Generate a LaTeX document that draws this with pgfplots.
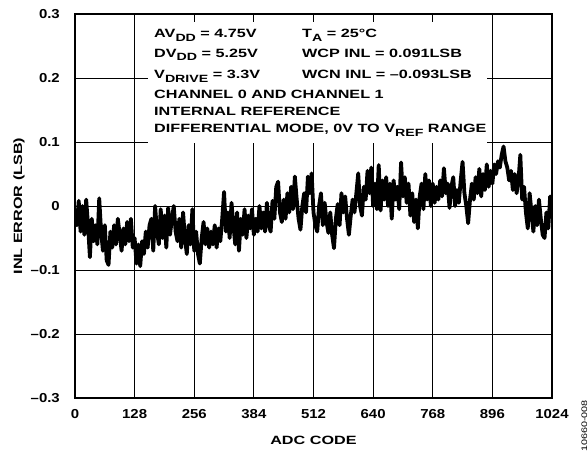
\documentclass[border=0pt]{standalone}
\usepackage{fontspec}
\setmainfont{Liberation Sans}
\newfontfamily\tickfont{Liberation Sans}[FakeStretch=1.15]
\newfontfamily\labfont{Liberation Sans}[FakeStretch=1.35]
\usepackage{pgfplots}
\pgfplotsset{compat=1.18}
\newcommand{\sub}[1]{\raisebox{-3.5bp}{\fontsize{10.5bp}{10.5bp}\selectfont #1}}
\newcommand{\labsize}{\labfont\bfseries\fontsize{12bp}{14bp}\selectfont}

\begin{document}
\begin{tikzpicture}
\useasboundingbox (-75bp,-55bp) rectangle (513bp,398bp);
\begin{axis}[
    scale only axis,
    width=477bp, height=384bp,
    at={(0,0)}, anchor=south west,
    xmin=0, xmax=1024,
    ymin=-0.3, ymax=0.3,
    xtick={0,128,256,384,512,640,768,896,1024},
    xticklabels={0,128,256,384,512,640,768,896,1024},
    ytick={-0.3,-0.2,-0.1,0,0.1,0.2,0.3},
    yticklabels={–0.3,–0.2,–0.1,0,0.1,0.2,0.3},
    grid=major,
    major grid style={black, line width=0.8bp},
    axis line style={line width=1.3bp},
    major tick length=0pt,
    tick label style={font=\tickfont\bfseries\fontsize{13bp}{15bp}\selectfont, inner sep=0pt},
    xticklabel shift=11.5bp,
    yticklabel shift=15bp,
]
\addplot[black, line width=3.8bp, line join=round] coordinates {
(0,-0.005) (4,-0.03) (8,0.008) (12,-0.04) (16,0.0) (20,-0.045) (24,0.01) (28,-0.03)
(32,-0.08) (36,-0.02) (40,-0.055) (44,-0.03) (48,-0.06) (52,0.012) (56,-0.04) (60,-0.07)
(64,-0.03) (68,-0.085) (72,-0.092) (76,-0.04) (80,-0.065) (84,-0.03) (88,-0.06) (92,-0.02)
(96,-0.045) (100,-0.07) (104,-0.035) (108,-0.06) (112,-0.025) (116,-0.055) (120,-0.02) (124,-0.065)
(128,-0.05) (132,-0.09) (136,-0.06) (140,-0.094) (144,-0.055) (148,-0.075) (152,-0.04) (156,-0.065)
(160,-0.03) (164,-0.02) (168,-0.07) (172,0.0) (176,-0.04) (180,-0.06) (184,-0.005) (188,-0.05)
(192,-0.015) (196,-0.065) (200,-0.003) (204,-0.045) (208,-0.02) (212,0.0) (216,-0.04) (220,-0.055)
(224,-0.02) (228,-0.065) (232,-0.01) (236,-0.05) (240,-0.075) (244,-0.03) (248,-0.06) (252,-0.005)
(256,-0.07) (260,-0.04) (264,-0.075) (268,-0.09) (272,-0.05) (276,-0.025) (280,-0.06) (284,-0.035)
(288,-0.065) (292,-0.04) (296,-0.06) (300,-0.03) (304,-0.065) (308,-0.035) (312,-0.055) (316,-0.02)
(320,0.022) (324,-0.04) (328,-0.01) (332,-0.05) (336,0.005) (340,-0.03) (344,-0.06) (348,-0.01)
(352,-0.07) (356,-0.02) (360,-0.045) (364,-0.005) (368,-0.05) (372,-0.015) (376,-0.035) (380,-0.005)
(384,-0.045) (388,-0.02) (392,-0.04) (396,0.0) (400,-0.035) (404,-0.01) (408,-0.04) (412,0.005)
(416,-0.03) (420,-0.04) (424,0.008) (428,-0.02) (432,0.03) (436,0.038) (440,-0.01) (444,-0.025)
(448,0.01) (452,-0.02) (456,0.02) (460,-0.01) (464,0.03) (468,-0.005) (472,0.046) (476,0.01)
(480,-0.02) (484,-0.037) (488,0.0) (492,0.02) (496,-0.01) (500,0.046) (504,0.02) (508,0.051)
(512,-0.01) (516,-0.03) (520,-0.04) (524,0.0) (528,0.02) (532,-0.03) (536,0.005) (540,-0.025)
(544,-0.042) (548,-0.01) (552,-0.045) (556,-0.066) (560,-0.02) (564,0.003) (568,-0.03) (572,0.02)
(576,-0.01) (580,0.015) (584,-0.02) (588,-0.045) (592,-0.015) (596,0.01) (600,-0.01) (604,0.02)
(608,0.051) (612,0.0) (616,-0.015) (620,0.03) (624,0.01) (628,0.055) (632,0.02) (636,0.06)
(640,0.0) (644,0.035) (648,-0.005) (652,0.064) (656,-0.007) (660,0.04) (664,0.01) (668,0.045)
(672,0.0) (676,0.035) (680,-0.02) (684,0.04) (688,0.01) (692,0.03) (696,-0.005) (700,0.068)
(704,0.015) (708,0.045) (712,0.005) (716,0.035) (720,-0.015) (724,0.02) (728,-0.025) (732,0.01)
(736,-0.035) (740,0.015) (744,0.035) (748,-0.005) (752,0.05) (756,0.01) (760,0.04) (764,0.0)
(768,0.035) (772,0.005) (776,0.03) (780,0.01) (784,0.04) (788,0.015) (792,0.059) (796,0.02)
(800,0.035) (804,-0.003) (808,0.03) (812,0.045) (816,0.0) (820,0.025) (824,0.005) (828,0.04)
(832,0.069) (836,0.02) (840,0.0) (844,-0.027) (848,0.01) (852,0.035) (856,0.01) (860,0.045)
(864,0.02) (868,0.058) (872,0.015) (876,0.05) (880,0.025) (884,0.065) (888,0.03) (892,0.055)
(896,0.035) (900,0.065) (904,0.05) (908,0.07) (912,0.06) (916,0.08) (920,0.093) (924,0.07)
(928,0.06) (932,0.04) (936,0.055) (940,0.025) (944,0.05) (948,0.02) (952,0.04) (956,0.08)
(960,0.01) (964,0.03) (968,-0.01) (972,-0.035) (976,0.02) (980,-0.01) (984,-0.04) (988,0.0)
(992,-0.03) (996,0.01) (1000,-0.02) (1004,-0.045) (1008,-0.05) (1012,-0.01) (1016,-0.035) (1020,0.015)
(1023,-0.01)
};
\end{axis}
% white panel behind the conditions text
\fill[white] (73bp,254.5bp) rectangle (412bp,376bp);
\begin{scope}[every node/.style={anchor=base west, inner sep=0pt, font=\labsize}]
\node at (79bp,360.3bp) {AV\sub{DD} = 4.75V};
\node at (227bp,360.3bp) {T\sub{A} = 25°C};
\node at (79bp,340.5bp) {DV\sub{DD} = 5.25V};
\node at (227bp,340.5bp) {WCP INL = 0.091LSB};
\node at (79bp,319bp) {V\sub{DRIVE} = 3.3V};
\node at (227bp,319bp) {WCN INL = –0.093LSB};
\node at (79bp,299bp) {CHANNEL 0 AND CHANNEL 1};
\node at (79bp,282bp) {INTERNAL REFERENCE};
\node at (79bp,265bp) {DIFFERENTIAL MODE, 0V TO V\sub{REF} RANGE};
\end{scope}
\node[font=\labsize, rotate=90] at (-56bp,192bp) {INL ERROR (LSB)};
\node[font=\labsize] at (238.5bp,-42bp) {ADC CODE};
\node[font=\labfont\fontsize{8bp}{9bp}\selectfont, rotate=90, anchor=south west, inner sep=0pt] at (512.5bp,-54bp) {10660-008};
\end{tikzpicture}
\end{document}
